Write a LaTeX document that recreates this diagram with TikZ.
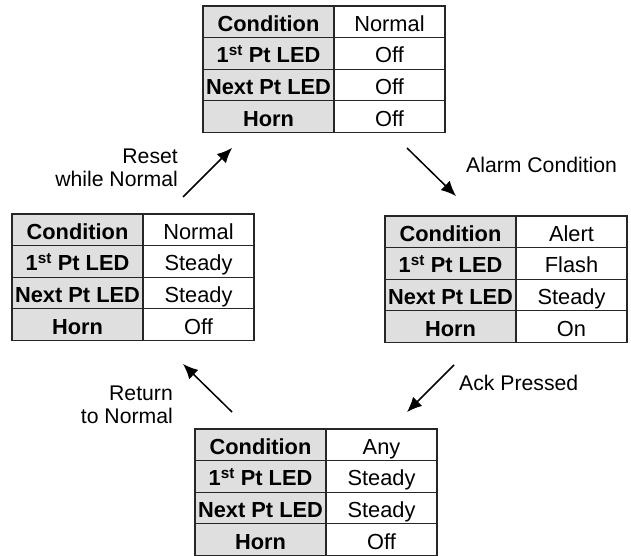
\documentclass[tikz,border=0pt]{standalone}
\usepackage{fontspec}
\setmainfont{Liberation Sans}
\usepackage{xcolor}
\usepackage{tikz}
\usetikzlibrary{positioning,arrows.meta}

\begin{document}
\begin{tikzpicture}[
    x=1pt,y=-1pt,
    >={Latex[length=15pt,width=13pt]},
    cellstyle/.style={draw=black!85,line width=1.2pt,inner sep=0pt,outer sep=0pt,
      minimum height=31.6pt,text height=19pt,text depth=0pt,
      font=\fontsize{21.8}{23}\selectfont},
    headcell/.style={cellstyle,fill=gray!25,minimum width=131pt,font=\fontsize{21.8}{23}\selectfont\bfseries},
    valcell/.style={cellstyle,fill=white,minimum width=111pt},
    lbl/.style={inner sep=0pt,align=right,font=\fontsize{21.2}{23}\selectfont},
    arr/.style={->,line width=1.5pt}
]
\useasboundingbox (0,0) rectangle (631,556);

% top: normal state
\node[headcell,anchor=north west] (idle1) at (203,6) {Condition};
\node[valcell,right=0pt of idle1] (idle1v) {Normal};
\node[headcell,below=0pt of idle1] (idle2) {1\textsuperscript{st} Pt LED};
\node[valcell,right=0pt of idle2] (idle2v) {Off};
\node[headcell,below=0pt of idle2] (idle3) {Next Pt LED};
\node[valcell,right=0pt of idle3] (idle3v) {Off};
\node[headcell,below=0pt of idle3] (idle4) {Horn};
\node[valcell,right=0pt of idle4] (idle4v) {Off};

% right: alert state
\node[headcell,anchor=north west] (alert1) at (385,216) {Condition};
\node[valcell,right=0pt of alert1] (alert1v) {Alert};
\node[headcell,below=0pt of alert1] (alert2) {1\textsuperscript{st} Pt LED};
\node[valcell,right=0pt of alert2] (alert2v) {Flash};
\node[headcell,below=0pt of alert2] (alert3) {Next Pt LED};
\node[valcell,right=0pt of alert3] (alert3v) {Steady};
\node[headcell,below=0pt of alert3] (alert4) {Horn};
\node[valcell,right=0pt of alert4] (alert4v) {On};

% bottom: acknowledged
\node[headcell,anchor=north west] (ack1) at (195,429) {Condition};
\node[valcell,right=0pt of ack1] (ack1v) {Any};
\node[headcell,below=0pt of ack1] (ack2) {1\textsuperscript{st} Pt LED};
\node[valcell,right=0pt of ack2] (ack2v) {Steady};
\node[headcell,below=0pt of ack2] (ack3) {Next Pt LED};
\node[valcell,right=0pt of ack3] (ack3v) {Steady};
\node[headcell,below=0pt of ack3] (ack4) {Horn};
\node[valcell,right=0pt of ack4] (ack4v) {Off};

% left: returned to normal
\node[headcell,anchor=north west] (ret1) at (12,214) {Condition};
\node[valcell,right=0pt of ret1] (ret1v) {Normal};
\node[headcell,below=0pt of ret1] (ret2) {1\textsuperscript{st} Pt LED};
\node[valcell,right=0pt of ret2] (ret2v) {Steady};
\node[headcell,below=0pt of ret2] (ret3) {Next Pt LED};
\node[valcell,right=0pt of ret3] (ret3v) {Steady};
\node[headcell,below=0pt of ret3] (ret4) {Horn};
\node[valcell,right=0pt of ret4] (ret4v) {Off};

% transitions
\coordinate (resetS) at (183,197);
\coordinate (resetE) at (232,148);
\coordinate (alarmS) at (407,148);
\coordinate (alarmE) at (456,196);
\coordinate (ackS) at (454,365);
\coordinate (ackE) at (407,412);
\coordinate (retS) at (232,412);
\coordinate (retE) at (183,364);
\draw[arr] (resetS) -- (resetE);
\draw[arr] (alarmS) -- (alarmE);
\draw[arr] (ackS) -- (ackE);
\draw[arr] (retS) -- (retE);

\node[lbl,anchor=east] (resetlbl) at (178,167.5) {Reset\\while Normal};
\node[lbl,anchor=west] (alarmlbl) at (466,165) {Alarm Condition};
\node[lbl,anchor=west] (acklbl) at (459,383) {Ack Pressed};
\node[lbl,anchor=east] (retlbl) at (173,405) {Return\\to Normal};
\end{tikzpicture}
\end{document}
